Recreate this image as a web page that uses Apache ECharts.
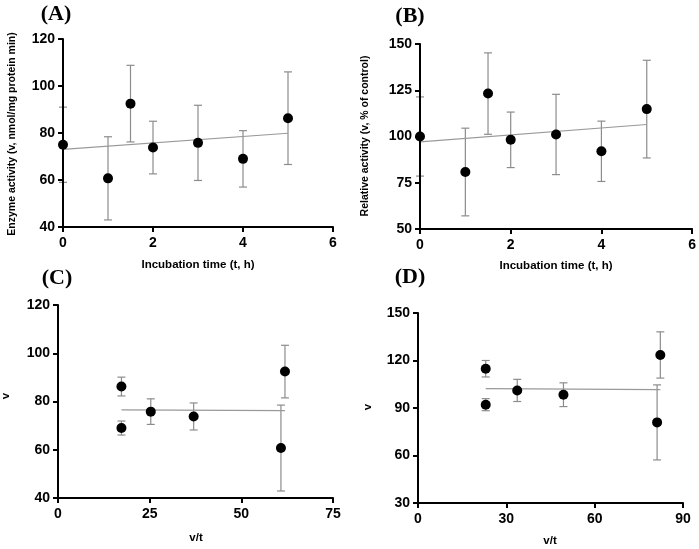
<!DOCTYPE html>
<html><head><meta charset="utf-8">
<script src="https://cdn.jsdelivr.net/npm/echarts@6/dist/echarts.min.js"></script>
<style>html,body{margin:0;padding:0;background:#fff}#c{width:699px;height:549px}</style>
</head><body><div id="c"></div>
<script>
// Panel A: enzyme activity vs incubation time
const timeA = [0, 1, 1.5, 2, 3, 4, 5];
const vA = [75, 60.7, 92.5, 73.8, 75.8, 69, 86.3];
const errA = [16, 17.7, 16.3, 11.2, 16, 12, 19.7];
const fitA = [[0, 73], [5, 79.9]];
// Panel B: relative activity (% of control)
const timeB = [0, 1, 1.5, 2, 3, 4, 5];
const vB = [100, 80.8, 123.2, 98.2, 101.1, 92, 114.8];
const errB = [21.4, 23.7, 22, 15, 21.7, 16.3, 26.4];
const fitB = [[0, 97.1], [5, 106.5]];
// Panel C: v vs v/t
const vtC = [17.3, 17.3, 25.3, 37, 61.9, 60.8];
const vC = [86.2, 69, 75.8, 73.8, 92.4, 60.7];
const errC = [3.9, 2.9, 5.3, 5.6, 10.9, 17.8];
const fitC = [[17.3, 76.5], [61.9, 76.2]];
// Panel D: v vs v/t (relative)
const vtD = [23, 23, 33.7, 49.4, 82.3, 81.2];
const vD = [114.8, 92.1, 101.1, 98.4, 123.5, 80.9];
const errD = [5.2, 3.8, 7, 7.5, 14.6, 23.7];
const fitD = [[23, 102.2], [82.3, 101.6]];

const panels = [
  {x: timeA, y: vA, e: errA, fit: fitA, grid: {left: 63, top: 39, width: 270, height: 188}, xr: [0, 6, 2], yr: [40, 120, 20]},
  {x: timeB, y: vB, e: errB, fit: fitB, grid: {left: 420, top: 44, width: 273, height: 185}, xr: [0, 6, 2], yr: [50, 150, 25]},
  {x: vtC, y: vC, e: errC, fit: fitC, grid: {left: 58, top: 305, width: 275, height: 193}, xr: [0, 75, 25], yr: [40, 120, 20]},
  {x: vtD, y: vD, e: errD, fit: fitD, grid: {left: 418, top: 313, width: 265, height: 190}, xr: [0, 90, 30], yr: [30, 150, 30]}
];

const SANS = 'Liberation Sans, Arial, sans-serif';
const SERIF = 'Liberation Serif, Times New Roman, serif';

function errItem(params, api) {
  const x = api.value(0), y = api.value(1), e = api.value(2);
  const top = api.coord([x, y + e]);
  const bot = api.coord([x, y - e]);
  const hw = 4;
  const st = {stroke: '#8c8c8c', lineWidth: 1.2};
  return {type: 'group', children: [
    {type: 'line', shape: {x1: top[0], y1: top[1], x2: bot[0], y2: bot[1]}, style: st},
    {type: 'line', shape: {x1: top[0] - hw, y1: top[1], x2: top[0] + hw, y2: top[1]}, style: st},
    {type: 'line', shape: {x1: bot[0] - hw, y1: bot[1], x2: bot[0] + hw, y2: bot[1]}, style: st}
  ]};
}

const axisCommon = {
  z: 4,
  axisLine: {show: true, onZero: false, lineStyle: {color: '#000', width: 2}},
  axisTick: {show: true, inside: false, length: 5, lineStyle: {color: '#000', width: 2}},
  splitLine: {show: false},
  axisLabel: {color: '#000', fontWeight: 'bold', fontSize: 14, fontFamily: SANS}
};

const grids = [], xAxes = [], yAxes = [], series = [];
panels.forEach((p, i) => {
  grids.push(p.grid);
  xAxes.push(Object.assign({}, axisCommon, {type: 'value', gridIndex: i, min: p.xr[0], max: p.xr[1], interval: p.xr[2],
    axisLabel: Object.assign({}, axisCommon.axisLabel, {margin: 9})}));
  yAxes.push(Object.assign({}, axisCommon, {type: 'value', gridIndex: i, min: p.yr[0], max: p.yr[1], interval: p.yr[2],
    axisLabel: Object.assign({}, axisCommon.axisLabel, {margin: 8})}));
  const pts = p.x.map((xv, k) => [xv, p.y[k], p.e[k]]);
  series.push({type: 'custom', xAxisIndex: i, yAxisIndex: i, renderItem: errItem, data: pts, z: 2,
    encode: {x: 0, y: 1}, silent: true});
  series.push({type: 'line', xAxisIndex: i, yAxisIndex: i, data: p.fit, showSymbol: false, z: 3,
    lineStyle: {color: '#999', width: 1.2}, silent: true});
  series.push({type: 'scatter', xAxisIndex: i, yAxisIndex: i, data: pts.map(d => [d[0], d[1]]), symbol: 'circle',
    symbolSize: 10, itemStyle: {color: '#000', opacity: 1}, z: 6, silent: true});
});

function txt(t, x, y, size, rot, font) {
  return {type: 'text', x: x, y: y, rotation: rot || 0, z: 10,
    style: {text: t, fill: '#000', font: 'bold ' + size + 'px ' + (font || SANS), textAlign: 'center', textVerticalAlign: 'middle'}};
}

const chart = echarts.init(document.getElementById('c'), null, {renderer: 'canvas'});
chart.setOption({
  animation: false,
  backgroundColor: '#fff',
  grid: grids,
  xAxis: xAxes,
  yAxis: yAxes,
  series: series,
  graphic: [
    txt('(A)', 56, 14, 22, 0, SERIF),
    txt('(B)', 410, 16, 22, 0, SERIF),
    txt('(C)', 57, 278, 22, 0, SERIF),
    txt('(D)', 410, 277, 22, 0, SERIF),
    txt('Enzyme activity (v, nmol/mg protein min)', 12, 134, 10.5, Math.PI / 2),
    txt('Incubation time (t, h)', 198, 265, 11.5),
    txt('Relative activity (v, % of control)', 365, 136, 10.5, Math.PI / 2),
    txt('Incubation time (t, h)', 556, 266, 11.5),
    txt('v', 6, 396, 11.5, Math.PI / 2),
    txt('v/t', 196, 538, 11.5),
    txt('v', 368, 407, 11.5, Math.PI / 2),
    txt('v/t', 550, 541, 11.5)
  ]
});
</script>
</body></html>
